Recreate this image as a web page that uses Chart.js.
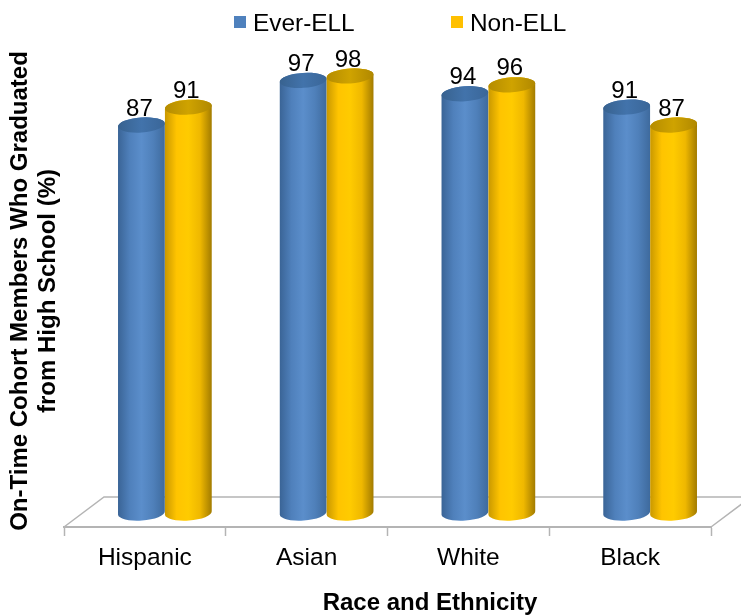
<!DOCTYPE html>
<html>
<head>
<meta charset="utf-8">
<title>On-time graduation by race and ethnicity</title>
<script src="https://cdn.jsdelivr.net/npm/chart.js@4/dist/chart.umd.js"></script>
<style>
    html, body { margin: 0; padding: 0; background: #fff; }
    canvas { display: block; }
</style>
</head>
<body>
<canvas id="gradChart" width="741" height="616"></canvas>
<script>
const categories = ["Hispanic", "Asian", "White", "Black"]
const seriesNames = ["Ever-ELL", "Non-ELL"]
const everEll = [87, 97, 94, 91]
const nonEll = [91, 98, 96, 87]
const yTitleLines = ["On-Time Cohort Members Who Graduated", "from High School (%)"]
const xTitle = "Race and Ethnicity"

const fontName = '"Liberation Sans", Arial, sans-serif'
const blueSide = ["#3a6496", "#4f80bb", "#5b8ecb", "#4f80ba", "#3e6a9d"]
const yellowSide = ["#c99800", "#ffc400", "#ffcb00", "#efb800", "#a27b00"]
const blueCap = ["#38628f", "#4273ab", "#3a6698"]
const yellowCap = ["#b58c00", "#cfa300", "#b08800"]
const floorColor = "#b4b4b4"
const floorDx = 40
const floorDy = 30
const capRy = 7.5
const capTilt = -0.07

const shadeGradient = (ctx, left, right, colors) => {
    const g = ctx.createLinearGradient(left, 0, right, 0)
    colors.forEach((c, i) => g.addColorStop(i / (colors.length - 1), c))
    return g
}

const drawCylinder = (ctx, bar, side, cap) => {
    const rx = bar.width / 2
    const cx = bar.x + floorDx / 2
    const left = cx - rx
    const right = cx + rx

    ctx.fillStyle = shadeGradient(ctx, left, right, side)
    ctx.beginPath()
    ctx.ellipse(cx, bar.y, rx, capRy, capTilt, Math.PI, Math.PI * 2)
    ctx.ellipse(cx, bar.base, rx, capRy, capTilt, 0, Math.PI)
    ctx.closePath()
    ctx.fill()

    ctx.fillStyle = shadeGradient(ctx, left, right, cap)
    ctx.beginPath()
    ctx.ellipse(cx, bar.y, rx, capRy, capTilt, 0, Math.PI * 2)
    ctx.fill()
}

// floor of the plot, behind the cylinders
const drawFloor = (chart) => {
    const ctx = chart.ctx
    const { left, right, bottom } = chart.chartArea
    ctx.save()
    ctx.strokeStyle = floorColor
    ctx.lineWidth = 1.5
    ctx.beginPath()
    ctx.moveTo(left, bottom)
    ctx.lineTo(left + floorDx, bottom - floorDy)
    ctx.lineTo(right + floorDx, bottom - floorDy)
    ctx.lineTo(right, bottom)
    ctx.stroke()
    ctx.restore()
}

const cylinderPlugin = {
    id: "cylinders",
    // replaces the flat bars, so returning false is on purpose
    beforeDatasetsDraw(chart) {
        const ctx = chart.ctx
        drawFloor(chart)
        const sides = [blueSide, yellowSide]
        const caps = [blueCap, yellowCap]
        chart.data.datasets.forEach((dataset, i) => {
            chart.getDatasetMeta(i).data.forEach(bar => drawCylinder(ctx, bar, sides[i], caps[i]))
        })
        return false
    }
}

// value labels, legend and axis titles; the titles sit off-centre from the plot
const annotationPlugin = {
    id: "annotations",
    afterDraw(chart) {
        const ctx = chart.ctx
        ctx.save()
        ctx.textBaseline = "middle"
        ctx.fillStyle = "#000"
        ctx.font = `24px ${fontName}`
        ctx.textAlign = "center"
        chart.data.datasets.forEach((dataset, i) => {
            chart.getDatasetMeta(i).data.forEach((bar, j) => {
                ctx.fillText(dataset.data[j], bar.x + floorDx / 2 - 2, bar.y - 16)
            })
        })

        ctx.font = `24.4px ${fontName}`
        ctx.textAlign = "left"
        const legendX = [234, 451]
        seriesNames.forEach((name, i) => {
            ctx.fillStyle = chart.data.datasets[i].backgroundColor
            ctx.fillRect(legendX[i], 16, 12, 12)
            ctx.fillStyle = "#000"
            ctx.fillText(name, legendX[i] + 19, 24)
        })

        ctx.font = `bold 24px ${fontName}`
        ctx.textAlign = "center"
        ctx.fillText(xTitle, 430, 603)

        ctx.translate(0, 291)
        ctx.rotate(-Math.PI / 2)
        yTitleLines.forEach((line, i) => ctx.fillText(line, 0, 20 + i * 28))
        ctx.restore()
    }
}

new Chart(document.getElementById("gradChart").getContext("2d"), {
    type: "bar",
    data: {
        labels: categories,
        datasets: [
            { label: seriesNames[0], data: everEll, backgroundColor: "#4f81bd" },
            { label: seriesNames[1], data: nonEll, backgroundColor: "#ffc000" }
        ]
    },
    options: {
        responsive: false,
        animation: false,
        layout: { padding: { left: 64, right: 30, top: 67, bottom: 0 } },
        datasets: { bar: { categoryPercentage: 0.58, barPercentage: 1 } },
        plugins: {
            legend: { display: false },
            title: { display: false },
            tooltip: { enabled: false }
        },
        scales: {
            x: {
                afterFit: (scale) => { scale.height = 89 },
                border: { color: floorColor, width: 2 },
                grid: { drawOnChartArea: false, drawTicks: true, tickLength: 9, tickColor: floorColor, tickWidth: 1.5 },
                ticks: { color: "#000", font: { family: fontName, size: 24.5 }, padding: 8, maxRotation: 0 }
            },
            y: {
                display: false,
                min: -3.14,
                max: 100
            }
        }
    },
    plugins: [cylinderPlugin, annotationPlugin]
})
</script>
</body>
</html>
